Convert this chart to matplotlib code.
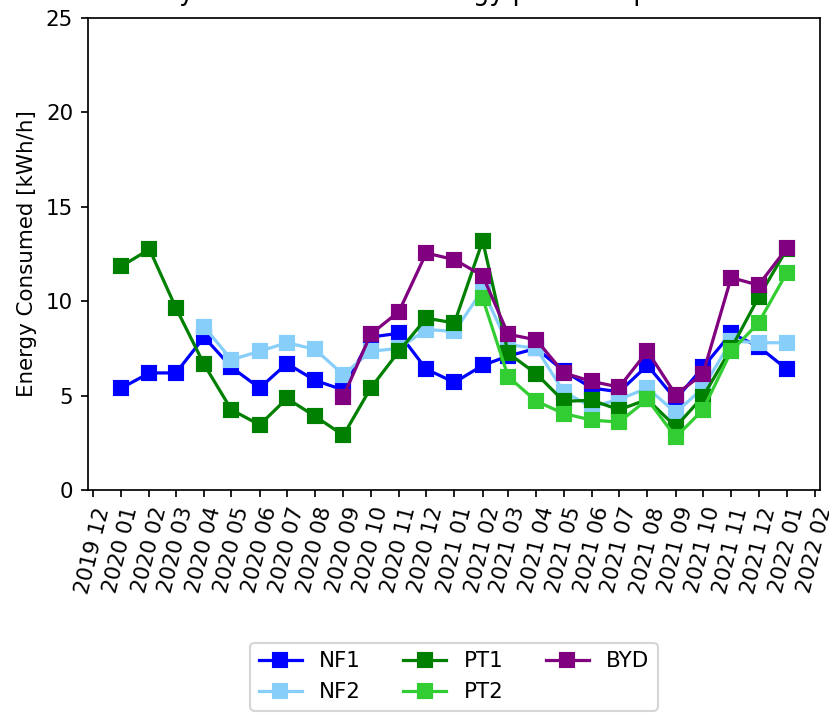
import numpy as np
import pandas as pd
import matplotlib
matplotlib.use("Agg")
import matplotlib.pyplot as plt
import matplotlib.dates as mdates

nan = np.nan

months = pd.date_range("2020-01-01", "2022-01-01", freq="MS")

nf1 = [5.4, 6.2, 6.2, 8.1, 6.5, 5.4, 6.7, 5.8, 5.3, 8.1, 8.3, 6.4, 5.7,
       6.6, 7.1, 7.5, 6.3, 5.4, 5.2, 6.6, 4.8, 6.5, 8.3, 7.6, 6.4]
nf2 = [nan, nan, nan, 8.65, 6.9, 7.35, 7.8, 7.45, 6.1, 7.35, 7.5, 8.5, 8.4,
       10.6, 7.7, 7.5, 5.2, 4.4, 4.8, 5.4, 4.1, 5.4, 7.9, 7.8, 7.8]
pt1 = [11.85, 12.75, 9.65, 6.65, 4.25, 3.45, 4.85, 3.9, 2.9, 5.4, 7.35, 9.1,
       8.85, 13.2, 7.25, 6.15, 4.7, 4.75, 4.25, 4.8, 3.35, 4.95, 7.5, 10.2, 12.75]
pt2 = [nan] * 13 + [10.15, 6.0, 4.7, 4.05, 3.7, 3.6, 4.8, 2.8, 4.25, 7.35,
                    8.85, 11.5]
byd = [nan] * 8 + [4.95, 8.25, 9.45, 12.55, 12.2, 11.35, 8.25, 7.95, 6.2,
                   5.75, 5.45, 7.35, 5.05, 6.15, 11.25, 10.85, 12.8]

series = [("NF1", nf1, "blue"),
          ("NF2", nf2, "lightskyblue"),
          ("PT1", pt1, "green"),
          ("PT2", pt2, "limegreen"),
          ("BYD", byd, "purple")]

DPI = 154
fig = plt.figure(figsize=(829 / DPI, 715 / DPI), dpi=DPI)
ax = fig.add_axes([88 / 829, 1 - 490 / 715, (820 - 88) / 829, (490 - 18) / 715])

for name, vals, color in series:
    ax.plot(months, vals, marker="s", markersize=6.5, color=color, label=name)

ax.set_ylim(0, 25)
ax.set_ylabel("Energy Consumed [kWh/h]")
ax.set_title("Monthly Total Consumed Energy per Hour per Bus Model", pad=8.2)
ax.xaxis.set_major_locator(mdates.MonthLocator())
ax.xaxis.set_major_formatter(mdates.DateFormatter("%Y %m"))
plt.setp(ax.get_xticklabels(), rotation=76)

ax.legend(loc="upper center", bbox_to_anchor=(0.5, -0.301), ncol=3)

fig.savefig("out.png", dpi=DPI)
